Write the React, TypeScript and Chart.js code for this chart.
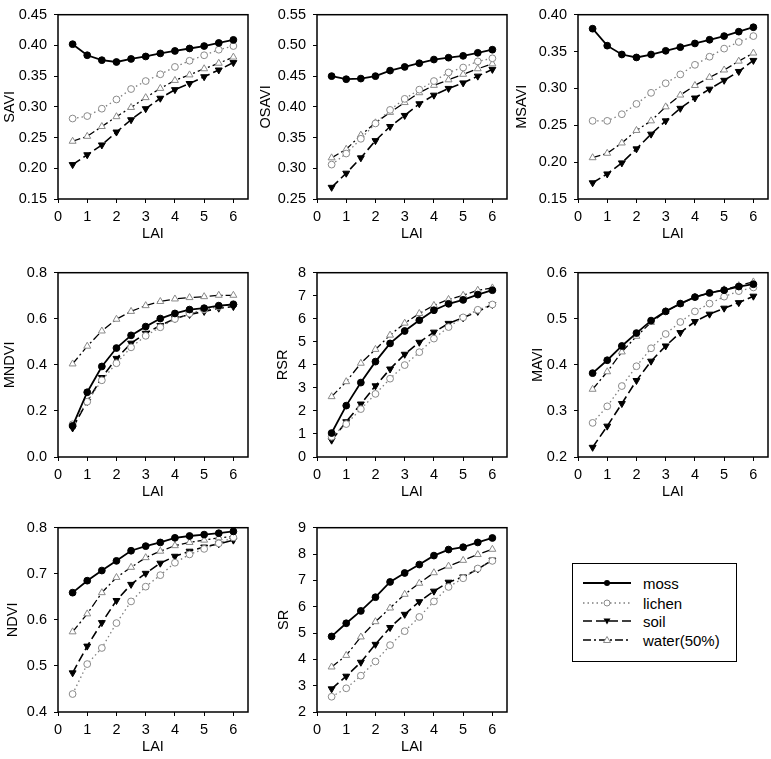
import React, { useEffect, useRef } from "react";
import { Chart, registerables } from "chart.js";
Chart.register(...registerables);

// ---------- DATA ----------
const LAI = [0.5, 1, 1.5, 2, 2.5, 3, 3.5, 4, 4.5, 5, 5.5, 6];
const SERIES_NAMES = ["moss", "lichen", "soil", "water(50%)"];
const X_TITLE = "LAI";

const SAVI_MOSS = [0.402, 0.384, 0.376, 0.373, 0.378, 0.382, 0.387, 0.391, 0.395, 0.399, 0.404, 0.409];
const SAVI_LICHEN = [0.281, 0.285, 0.297, 0.312, 0.329, 0.342, 0.353, 0.365, 0.375, 0.384, 0.393, 0.399];
const SAVI_SOIL = [0.206, 0.222, 0.238, 0.259, 0.279, 0.297, 0.314, 0.328, 0.338, 0.349, 0.36, 0.372];
const SAVI_WATER = [0.244, 0.252, 0.268, 0.284, 0.299, 0.315, 0.33, 0.343, 0.352, 0.362, 0.371, 0.381];

const OSAVI_MOSS = [0.45, 0.445, 0.446, 0.45, 0.459, 0.465, 0.471, 0.477, 0.48, 0.483, 0.488, 0.493];
const OSAVI_LICHEN = [0.306, 0.324, 0.348, 0.373, 0.395, 0.413, 0.428, 0.442, 0.456, 0.464, 0.474, 0.479];
const OSAVI_SOIL = [0.269, 0.292, 0.317, 0.345, 0.368, 0.386, 0.405, 0.419, 0.43, 0.439, 0.45, 0.461];
const OSAVI_WATER = [0.317, 0.331, 0.354, 0.374, 0.391, 0.407, 0.423, 0.435, 0.444, 0.453, 0.462, 0.47];

const MSAVI_MOSS = [0.381, 0.358, 0.346, 0.342, 0.346, 0.351, 0.356, 0.361, 0.366, 0.371, 0.377, 0.383];
const MSAVI_LICHEN = [0.256, 0.256, 0.265, 0.279, 0.294, 0.307, 0.319, 0.332, 0.343, 0.354, 0.363, 0.371];
const MSAVI_SOIL = [0.172, 0.184, 0.199, 0.218, 0.238, 0.256, 0.273, 0.287, 0.299, 0.311, 0.323, 0.338];
const MSAVI_WATER = [0.206, 0.212, 0.226, 0.243, 0.256, 0.275, 0.291, 0.304, 0.315, 0.325, 0.337, 0.348];

const MNDVI_MOSS = [0.135, 0.281, 0.393, 0.473, 0.528, 0.566, 0.601, 0.623, 0.64, 0.646, 0.657, 0.662];
const MNDVI_LICHEN = [0.142, 0.24, 0.333, 0.407, 0.476, 0.526, 0.563, 0.599, 0.623, 0.64, 0.653, 0.664];
const MNDVI_SOIL = [0.126, 0.241, 0.345, 0.428, 0.494, 0.537, 0.571, 0.601, 0.619, 0.632, 0.646, 0.653];
const MNDVI_WATER = [0.404, 0.481, 0.547, 0.598, 0.632, 0.657, 0.675, 0.686, 0.692, 0.696, 0.702, 0.702];

const RSR_MOSS = [1.04, 2.23, 3.23, 4.14, 4.93, 5.47, 5.94, 6.37, 6.65, 6.82, 7.05, 7.24];
const RSR_LICHEN = [0.88, 1.43, 2.08, 2.74, 3.4, 3.99, 4.55, 5.14, 5.64, 6.06, 6.39, 6.62];
const RSR_SOIL = [0.73, 1.53, 2.3, 3.09, 3.82, 4.46, 4.98, 5.42, 5.8, 6.04, 6.32, 6.62];
const RSR_WATER = [2.62, 3.27, 4.07, 4.67, 5.29, 5.81, 6.23, 6.58, 6.84, 7.02, 7.24, 7.34];

const MAVI_MOSS = [0.382, 0.41, 0.441, 0.469, 0.496, 0.516, 0.533, 0.547, 0.556, 0.562, 0.57, 0.575];
const MAVI_LICHEN = [0.274, 0.31, 0.354, 0.397, 0.436, 0.467, 0.493, 0.516, 0.533, 0.548, 0.56, 0.568];
const MAVI_SOIL = [0.221, 0.267, 0.316, 0.366, 0.408, 0.441, 0.47, 0.494, 0.51, 0.523, 0.535, 0.549];
const MAVI_WATER = [0.347, 0.385, 0.428, 0.462, 0.492, 0.516, 0.532, 0.547, 0.556, 0.563, 0.572, 0.58];

const NDVI_MOSS = [0.659, 0.685, 0.707, 0.728, 0.75, 0.76, 0.768, 0.778, 0.782, 0.785, 0.788, 0.792];
const NDVI_LICHEN = [0.439, 0.504, 0.539, 0.593, 0.64, 0.672, 0.697, 0.724, 0.742, 0.754, 0.766, 0.779];
const NDVI_SOIL = [0.485, 0.543, 0.594, 0.642, 0.677, 0.701, 0.723, 0.738, 0.749, 0.758, 0.765, 0.773];
const NDVI_WATER = [0.574, 0.613, 0.659, 0.692, 0.714, 0.735, 0.749, 0.761, 0.768, 0.773, 0.778, 0.781];

const SR_MOSS = [4.87, 5.37, 5.84, 6.36, 6.94, 7.28, 7.6, 7.94, 8.17, 8.26, 8.44, 8.61];
const SR_LICHEN = [2.58, 2.9, 3.38, 3.92, 4.54, 5.07, 5.61, 6.2, 6.75, 7.08, 7.45, 7.74];
const SR_SOIL = [2.88, 3.36, 3.89, 4.57, 5.21, 5.71, 6.19, 6.59, 6.93, 7.13, 7.43, 7.77];
const SR_WATER = [3.71, 4.15, 4.85, 5.43, 5.95, 6.47, 6.89, 7.29, 7.54, 7.76, 7.98, 8.18];

// y-axis: [title, min, max, step, decimals]
const PANELS = [
  { name: "SAVI", min: 0.15, max: 0.45, step: 0.05, dec: 2, series: [SAVI_MOSS, SAVI_LICHEN, SAVI_SOIL, SAVI_WATER] },
  { name: "OSAVI", min: 0.25, max: 0.55, step: 0.05, dec: 2, series: [OSAVI_MOSS, OSAVI_LICHEN, OSAVI_SOIL, OSAVI_WATER] },
  { name: "MSAVI", min: 0.15, max: 0.4, step: 0.05, dec: 2, series: [MSAVI_MOSS, MSAVI_LICHEN, MSAVI_SOIL, MSAVI_WATER] },
  { name: "MNDVI", min: 0, max: 0.8, step: 0.2, dec: 1, series: [MNDVI_MOSS, MNDVI_LICHEN, MNDVI_SOIL, MNDVI_WATER] },
  { name: "RSR", min: 0, max: 8, step: 1, dec: 0, series: [RSR_MOSS, RSR_LICHEN, RSR_SOIL, RSR_WATER] },
  { name: "MAVI", min: 0.2, max: 0.6, step: 0.1, dec: 1, series: [MAVI_MOSS, MAVI_LICHEN, MAVI_SOIL, MAVI_WATER] },
  { name: "NDVI", min: 0.4, max: 0.8, step: 0.1, dec: 1, series: [NDVI_MOSS, NDVI_LICHEN, NDVI_SOIL, NDVI_WATER] },
  { name: "SR", min: 2, max: 9, step: 1, dec: 0, series: [SR_MOSS, SR_LICHEN, SR_SOIL, SR_WATER] },
];

// ---------- LAYOUT / STYLE ----------
const X_MIN = 0;
const X_MAX = 6.5;
const PLOT_W = 190;
const PLOT_H = 190;
const YW = 70; // y-axis box width
const XH = 46; // x-axis box height
const PT = 10;
const PR = 12;
const FONT = "'Liberation Sans', Arial, sans-serif";
const TICK_SIZE = 14.5;
const TITLE_SIZE = 14.5;

// plot-area left/top in page coordinates, and y-title distance from plot left
const LAYOUT = [
  { left: 58, top: 9, titleOff: 48 },
  { left: 317, top: 9, titleOff: 51 },
  { left: 578, top: 9, titleOff: 56 },
  { left: 58, top: 267, titleOff: 48 },
  { left: 317, top: 267, titleOff: 34 },
  { left: 578, top: 267, titleOff: 40 },
  { left: 58, top: 522, titleOff: 45 },
  { left: 317, top: 522, titleOff: 33 },
];

const STYLES = [
  { borderColor: "#000", borderWidth: 1.8, borderDash: [], pointStyle: "circle", pointRadius: 3.4, pointBackgroundColor: "#000", pointBorderColor: "#000", pointBorderWidth: 1, pointRotation: 0 },
  { borderColor: "#7f7f7f", borderWidth: 1.3, borderDash: [1.5, 3], pointStyle: "circle", pointRadius: 3.4, pointBackgroundColor: "#fff", pointBorderColor: "#8a8a8a", pointBorderWidth: 1, pointRotation: 0 },
  { borderColor: "#000", borderWidth: 1.6, borderDash: [9, 4], pointStyle: "triangle", pointRadius: 4, pointBackgroundColor: "#000", pointBorderColor: "#000", pointBorderWidth: 1, pointRotation: 180 },
  { borderColor: "#000", borderWidth: 1.3, borderDash: [8, 3, 2, 3], pointStyle: "triangle", pointRadius: 4, pointBackgroundColor: "#fff", pointBorderColor: "#8a8a8a", pointBorderWidth: 1, pointRotation: 0 },
];

const framePlugin = {
  id: "frame",
  afterDatasetsDraw(chart: any) {
    const { ctx, chartArea: a } = chart;
    ctx.save();
    ctx.strokeStyle = "#000";
    ctx.lineWidth = 1.5;
    ctx.setLineDash([]);
    ctx.strokeRect(a.left, a.top, a.right - a.left, a.bottom - a.top);
    ctx.restore();
  },
};

function Panel({ idx }: { idx: number }) {
  const ref = useRef<HTMLCanvasElement>(null);
  const p = PANELS[idx];
  const L = LAYOUT[idx];
  const W = YW + PLOT_W + PR;
  const H = PT + PLOT_H + XH;

  useEffect(() => {
    if (!ref.current) return;
    const datasets = p.series.map((vals, si) => ({
      label: SERIES_NAMES[si],
      data: LAI.map((x, i) => ({ x, y: vals[i] })),
      ...STYLES[si],
      fill: false,
      tension: 0,
      showLine: true,
    }));
    const tickFont = { family: FONT, size: TICK_SIZE };
    const titleFont = { family: FONT, size: TITLE_SIZE, lineHeight: 1 };
    const chart = new Chart(ref.current, {
      type: "scatter",
      data: { datasets: datasets as any },
      options: {
        responsive: false,
        animation: false,
        devicePixelRatio: 1,
        layout: { padding: { left: 0, top: PT, right: PR, bottom: 0 } },
        plugins: { legend: { display: false }, tooltip: { enabled: false } },
        scales: {
          x: {
            type: "linear",
            min: X_MIN,
            max: X_MAX,
            afterFit: (s: any) => { s.height = XH; },
            ticks: { stepSize: 1, includeBounds: false, color: "#000", font: tickFont, padding: 5, maxRotation: 0, autoSkip: false },
            grid: { display: true, drawOnChartArea: false, drawTicks: true, tickLength: 4, color: "#000", lineWidth: 1 },
            border: { display: false },
            title: { display: true, text: X_TITLE, color: "#000", font: titleFont, padding: { top: 0, bottom: XH - 35 - TITLE_SIZE / 2 } },
          },
          y: {
            type: "linear",
            min: p.min,
            max: p.max,
            afterFit: (s: any) => { s.width = YW; },
            ticks: {
              stepSize: p.step,
              includeBounds: false,
              color: "#000",
              font: tickFont,
              padding: 7,
              callback: (v: any) => Number(v).toFixed(p.dec),
            },
            grid: { display: true, drawOnChartArea: false, drawTicks: true, tickLength: 4, color: "#000", lineWidth: 1 },
            border: { display: false },
            title: { display: true, text: p.name, color: "#000", font: titleFont, padding: { top: YW - L.titleOff - TITLE_SIZE / 2, bottom: 0 } },
          },
        },
      } as any,
      plugins: [framePlugin],
    });
    return () => chart.destroy();
  }, [idx]);

  return (
    <canvas
      ref={ref}
      width={W}
      height={H}
      style={{ position: "absolute", left: L.left - YW, top: L.top - PT, width: W, height: H }}
    />
  );
}

function LegendBox() {
  const ys = [20, 40, 58, 77];
  const x0 = 11, x1 = 59, xm = 35;
  return (
    <svg
      width={166}
      height={100}
      style={{ position: "absolute", left: 572, top: 563 }}
    >
      <rect x={0.5} y={0.5} width={164} height={98} fill="#fff" stroke="#000" strokeWidth={1} />
      {SERIES_NAMES.map((n, i) => {
        const s = STYLES[i];
        const y = ys[i];
        const dash = s.borderDash.length ? s.borderDash.join(",") : undefined;
        let marker;
        if (i === 0) marker = <circle cx={xm} cy={y} r={3} fill="#000" />;
        else if (i === 1) marker = <circle cx={xm} cy={y} r={3} fill="#fff" stroke="#8a8a8a" />;
        else if (i === 2) marker = <polygon points={`${xm - 3.5},${y - 2.5} ${xm + 3.5},${y - 2.5} ${xm},${y + 3.5}`} fill="#000" />;
        else marker = <polygon points={`${xm - 3.5},${y + 2.5} ${xm + 3.5},${y + 2.5} ${xm},${y - 3.5}`} fill="#fff" stroke="#8a8a8a" />;
        return (
          <g key={n}>
            <line x1={x0} y1={y} x2={x1} y2={y} stroke={s.borderColor} strokeWidth={s.borderWidth} strokeDasharray={dash} />
            {marker}
            <text x={71} y={y} dominantBaseline="central" fontFamily={FONT} fontSize={15} fill="#000">{n}</text>
          </g>
        );
      })}
    </svg>
  );
}

export default function App() {
  return (
    <div style={{ position: "absolute", left: 0, top: 0, width: 771, height: 759, background: "#fff", overflow: "hidden" }}>
      {PANELS.map((_, i) => <Panel key={i} idx={i} />)}
      <LegendBox />
    </div>
  );
}
